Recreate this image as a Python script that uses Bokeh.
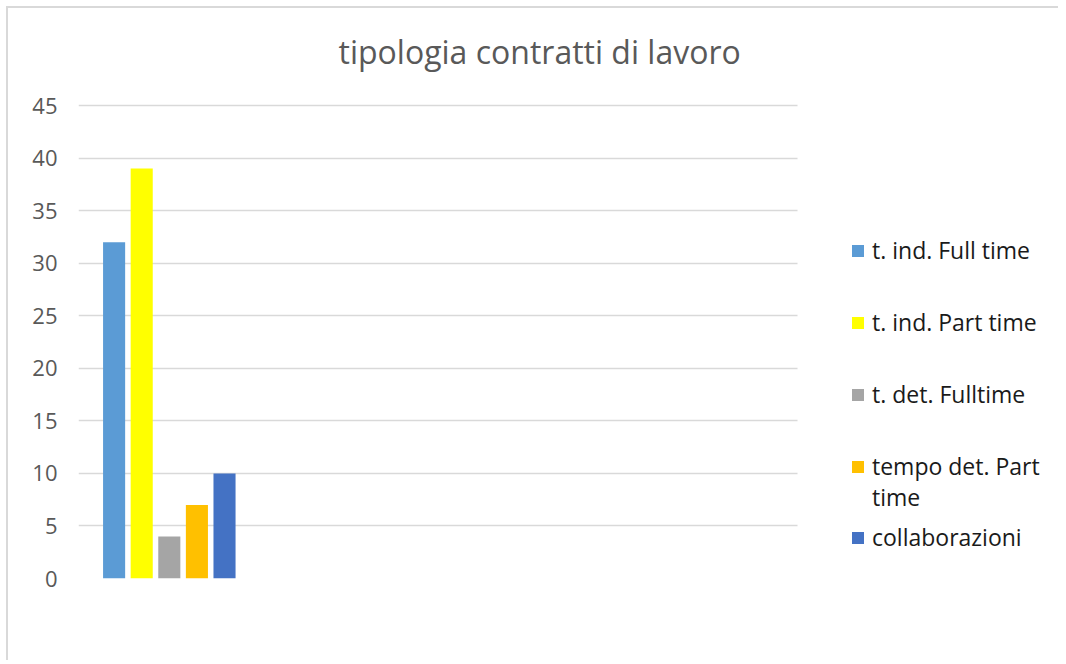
from bokeh.plotting import figure
from bokeh.models import Range1d, Legend, LegendItem, FixedTicker, Label, Grid
from bokeh.embed import file_html
from bokeh.resources import INLINE

series = ["t. ind. Full time", "t. ind. Part time", "t. det. Fulltime",
          "tempo det. Part time", "collaborazioni"]
values = [32, 39, 4, 7, 10]
colors = ["#5B9BD5", "#FFFF00", "#A5A5A5", "#FFC000", "#4472C4"]
y_ticks = [0, 5, 10, 15, 20, 25, 30, 35, 40, 45]
title_text = "tipologia contratti di lavoro"

FONT = "Open Sans"
GRID_END = 24.77   # right end of the plot area (x units), legend sits beyond it

p = figure(width=1052, height=654, output_backend="svg", toolbar_location=None,
           x_range=Range1d(-1.29, 34.07), y_range=Range1d(0, 54.23),
           min_border_left=70, min_border_right=6, min_border_top=0,
           min_border_bottom=84,
           styles={"margin-left": "8px", "margin-top": "8px",
                   "box-shadow": "-2px -2px 0 0 #d9d9d9"})
p.outline_line_color = None
p.background_fill_color = "white"
p.border_fill_color = "white"

p.xaxis.visible = False
p.xgrid.visible = False
p.yaxis.ticker = FixedTicker(ticks=y_ticks)
p.ygrid.ticker = FixedTicker(ticks=y_ticks)
if "cross_bounds" in Grid.properties():
    p.ygrid.grid_line_color = "#d9d9d9"
    p.ygrid.grid_line_width = 1.3
    p.ygrid.cross_bounds = (-1.29, GRID_END)
else:
    p.ygrid.visible = False
    p.segment(x0=-1.29, x1=GRID_END, y0=y_ticks, y1=y_ticks,
              line_color="#d9d9d9", line_width=1.3)
p.yaxis.axis_line_color = None
p.yaxis.major_tick_line_color = None
p.yaxis.minor_tick_line_color = None
p.yaxis.major_tick_out = 0
p.yaxis.major_label_standoff = 21
p.yaxis.major_label_text_font = FONT
p.yaxis.major_label_text_font_size = "22px"
p.yaxis.major_label_text_color = "#595959"

renderers = []
for i, (val, col) in enumerate(zip(values, colors)):
    r = p.vbar(x=[i], top=[val], bottom=0, width=0.8, fill_color=col, line_color=None)
    renderers.append(r)

# invisible glyph used for the wrapped second line of a legend label
blank = p.vbar(x=[], top=[], bottom=0, width=0.8, fill_alpha=0, line_alpha=0)

head, tail = series[3].rsplit(" ", 1)
items_a = [LegendItem(label=series[k], renderers=[renderers[k]]) for k in range(3)]
items_a.append(LegendItem(label=head, renderers=[renderers[3]]))
items_b = [LegendItem(label=tail, renderers=[blank]),
           LegendItem(label=series[4], renderers=[renderers[4]])]

common = dict(orientation="vertical", border_line_color=None, background_fill_alpha=0,
              padding=0, margin=0, label_height=32,
              glyph_width=15, glyph_height=15, label_standoff=7,
              label_text_font=FONT, label_text_font_size="23px",
              label_text_color="#1a1a1a")
legend_a = Legend(items=items_a, location=(772, 96), spacing=40, **common)
legend_b = Legend(items=items_b, location=(772, 25), spacing=8, **common)
p.add_layout(legend_a, "center")
p.add_layout(legend_b, "center")

title = Label(x=8.13, y=50.15, text=title_text, text_font=FONT,
              text_font_size="32px", text_color="#595959",
              text_align="left", text_baseline="alphabetic")
p.add_layout(title)

open("out.html", "w").write(file_html(p, INLINE))
